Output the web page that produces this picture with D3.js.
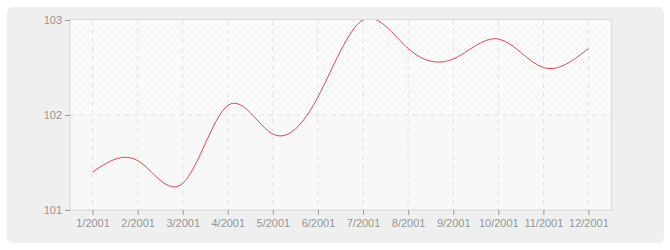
<!DOCTYPE html>
<html>
<head>
<meta charset="utf-8">
<script src="https://cdn.jsdelivr.net/npm/d3@7"></script>
<style>
  body { margin: 0; background: #fff; }
  text { font-family: "Liberation Sans", Arial, sans-serif; font-size: 11px; fill: #959595; }
</style>
</head>
<body>
<div id="chart"></div>
<script>
// data
const months = ["1/2001", "2/2001", "3/2001", "4/2001", "5/2001", "6/2001",
                "7/2001", "8/2001", "9/2001", "10/2001", "11/2001", "12/2001"];
const values = [101.4, 101.52, 101.28, 102.1, 101.8, 102.19, 103.0, 102.7, 102.59, 102.8, 102.5, 102.7];
const yTicks = [101, 102, 103];

const width = 670, height = 250;
const margin = {left: 70, right: 59, top: 20, bottom: 40};
const innerWidth = width - margin.left - margin.right,
      innerHeight = height - margin.top - margin.bottom;

var svg = d3.select("#chart")
  .append("svg")
  .attr("width", width)
  .attr("height", height);

// outer panel
svg.append("rect")
  .attr("x", 7).attr("y", 7)
  .attr("width", 657).attr("height", 236)
  .attr("rx", 6)
  .attr("fill", "#efefef");

var defs = svg.append("defs");
function hatch(id, bg, line) {
  var p = defs.append("pattern")
    .attr("id", id)
    .attr("patternUnits", "userSpaceOnUse")
    .attr("width", 4).attr("height", 4);
  p.append("rect").attr("width", 4).attr("height", 4).attr("fill", bg);
  p.append("path")
    .attr("d", "M-1,1 l2,-2 M0,4 l4,-4 M3,5 l2,-2")
    .attr("stroke", line).attr("stroke-width", 1);
}
hatch("hatchTop", "#ffffff", "#f1f1f1");
hatch("hatchBottom", "#fafafa", "#f3f3f3");

defs.append("clipPath").attr("id", "plotClip")
  .append("rect").attr("width", innerWidth).attr("height", innerHeight);

var g = svg.append("g").attr("transform", "translate(" + margin.left + "," + margin.top + ")");

var x = d3.scalePoint().domain(months).range([0, innerWidth]).padding(0.5);
var y = d3.scaleLinear().domain([101, 103]).range([innerHeight, 0]);

// banded background
g.append("rect")
  .attr("x", 0).attr("y", y(103))
  .attr("width", innerWidth).attr("height", y(102) - y(103))
  .attr("fill", "url(#hatchTop)");
g.append("rect")
  .attr("x", 0).attr("y", y(102))
  .attr("width", innerWidth).attr("height", y(101) - y(102))
  .attr("fill", "url(#hatchBottom)");

// grid
g.append("g").selectAll("line")
  .data(months)
  .enter().append("line")
  .attr("x1", d => x(d)).attr("x2", d => x(d))
  .attr("y1", 0).attr("y2", innerHeight)
  .attr("stroke", "#e2e2e2")
  .attr("stroke-dasharray", "5,4");
g.append("g").selectAll("line")
  .data(yTicks.slice(1, -1))
  .enter().append("line")
  .attr("x1", 0).attr("x2", innerWidth)
  .attr("y1", d => y(d)).attr("y2", d => y(d))
  .attr("stroke", "#e2e2e2")
  .attr("stroke-dasharray", "5,4");

// plot frame
g.append("rect")
  .attr("x", 0).attr("y", -0.5)
  .attr("width", innerWidth + 0.5).attr("height", innerHeight + 0.5)
  .attr("fill", "none")
  .attr("stroke", "#e0e0e0")
  .attr("stroke-width", 1.5);

// axes
var xAxis = g.append("g")
  .attr("transform", "translate(0," + innerHeight + ")")
  .call(d3.axisBottom(x).tickSize(5).tickPadding(4));
var yAxis = g.append("g")
  .call(d3.axisLeft(y).tickValues(yTicks).tickFormat(d3.format("d")).tickSize(5).tickPadding(3));
[xAxis, yAxis].forEach(function(a) {
  a.attr("font-family", null).attr("font-size", null);
  a.select(".domain").remove();
  a.selectAll(".tick line").attr("stroke", "#999");
  a.selectAll("text").attr("fill", "#959595");
});

// the line
var line = d3.line()
  .x((d, i) => x(months[i]))
  .y(d => y(d))
  .curve(d3.curveNatural);

g.append("path")
  .datum(values)
  .attr("clip-path", "url(#plotClip)")
  .attr("fill", "none")
  .attr("stroke", "#dc4454")
  .attr("stroke-width", 1)
  .attr("d", line);
</script>
</body>
</html>
